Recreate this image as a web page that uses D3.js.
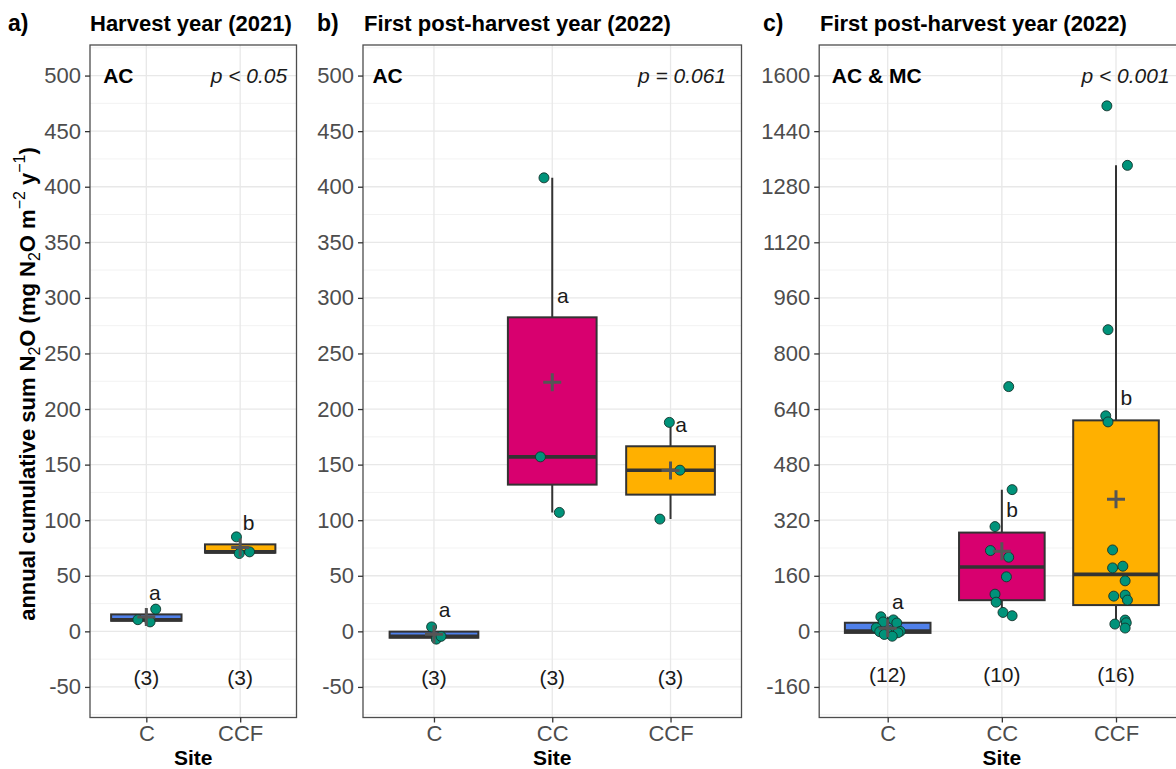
<!DOCTYPE html>
<html>
<head>
<meta charset="utf-8">
<script src="https://cdn.jsdelivr.net/npm/d3@7"></script>
<style>
  body { margin: 0; background: #fff; }
  svg { display: block; font-family: "Liberation Sans", Arial, sans-serif; }
</style>
</head>
<body>
<svg id="chart" width="1176" height="769"></svg>
<script>
// ---- Data -------------------------------------------------------------
const panelTags   = ["a)", "b)", "c)"];
const panelTitles = ["Harvest year (2021)", "First post-harvest year (2022)", "First post-harvest year (2022)"];
const chamberText = ["AC", "AC", "AC & MC"];
const pText       = ["p < 0.05", "p = 0.061", "p < 0.001"];

const sitesA  = ["C", "CCF"];
const sitesBC = ["C", "CC", "CCF"];

const yTicksAB = [-50, 0, 50, 100, 150, 200, 250, 300, 350, 400, 450, 500];
const yTicksC  = [-160, 0, 160, 320, 480, 640, 800, 960, 1120, 1280, 1440, 1600];
const yLimitsAB = [-50, 500];
const yLimitsC  = [-160, 1600];

// annual cumulative N2O sums per site (mg N2O m-2 y-1)
const a_C   = [20, 10.5, 8.5];
const a_CCF = [85, 70, 71.5];
const b_C   = [4, -7, -4.5];
const b_CC  = [408, 157, 107];
const b_CCF = [188, 145, 101];
const c_C   = [42, 33, 27, 24, 10, 2, 0, -1, -4, -6, -9, -14];
const c_CC  = [704.6, 408, 301.6, 232.6, 213.4, 157, 107, 84, 54.5, 45];
const c_CCF = [1512.8, 1341.5, 868.4, 620.5, 603, 234.4, 182.7, 187.6, 145.4, 101.4, 104.3, 90, 32.5, 24.7, 21, 9.5];

// horizontal jitter of the points (in category units)
const jit_a_C   = [0.10, -0.09, 0.04];
const jit_a_CCF = [-0.04, -0.01, 0.10];
const jit_b_C   = [-0.02, 0.02, 0.06];
const jit_b_CC  = [-0.07, -0.10, 0.06];
const jit_b_CCF = [-0.01, 0.08, -0.09];
const jit_c_C   = [-0.06, 0.05, -0.04, 0.08, -0.10, 0.02, 0.11, -0.07, 0.09, 0.0, -0.03, 0.04];
const jit_c_CC  = [0.06, 0.09, -0.06, -0.10, 0.06, 0.04, -0.06, -0.05, 0.01, 0.09];
const jit_c_CCF = [-0.08, 0.10, -0.07, -0.09, -0.07, -0.03, -0.03, 0.06, 0.08, -0.02, 0.08, 0.10, 0.08, 0.09, -0.01, 0.08];

// significance letters and where they sit on the y scale
const lettersA = ["a", "b"];
const lettersB = ["a", "a", "a"];
const lettersC = ["a", "b", "b"];
const letterYA = [28, 91];
const letterYB = [12.6, 295.6, 179.6];
const letterYC = [64, 328, 652];
const nLabelY  = [-48, -48, -145];

const siteColors = { C: "#4f80ea", CC: "#d8006f", CCF: "#ffb000" };

// ---- Layout -----------------------------------------------------------
const panels = [
  { left: 90,    right: 296.5,  sites: sitesA,  ticks: yTicksAB, lim: yLimitsAB,
    values: [a_C, a_CCF], jit: [jit_a_C, jit_a_CCF], letters: lettersA, letterY: letterYA,
    tagX: 8, titleX: 90, chamberX: 0.54, pX: 2.5 },
  { left: 363,   right: 741.5,  sites: sitesBC, ticks: yTicksAB, lim: yLimitsAB,
    values: [b_C, b_CC, b_CCF], jit: [jit_b_C, jit_b_CC, jit_b_CCF], letters: lettersB, letterY: letterYB,
    tagX: 317, titleX: 364, chamberX: 0.48, pX: 3.47 },
  { left: 819.2, right: 1184.5, sites: sitesBC, ticks: yTicksC,  lim: yLimitsC,
    values: [c_C, c_CC, c_CCF], jit: [jit_c_C, jit_c_CC, jit_c_CCF], letters: lettersC, letterY: letterYC,
    tagX: 763, titleX: 820, chamberX: 0.51, pX: 3.47 }
];
const plotTop = 45, plotBottom = 717.5;
const FS = 22;     // axis text and titles
const FA = 21;     // in-panel annotations

const svg = d3.select("#chart");
svg.append("rect").attr("width", 1176).attr("height", 769).attr("fill", "#fff");

panels.forEach((P, pi) => {
  const span = P.lim[1] - P.lim[0];
  const y = d3.scaleLinear()
    .domain([P.lim[0] - 0.05 * span, P.lim[1] + 0.05 * span])
    .range([plotBottom, plotTop]);
  const x = d3.scalePoint().domain(P.sites).range([P.left, P.right]).padding(0.6);
  const step = x.step();
  const xc = v => P.left + (v - 0.4) * step;   // continuous category coordinate

  const g = svg.append("g");
  const clipId = "clip" + pi;
  g.append("clipPath").attr("id", clipId)
    .append("rect").attr("x", P.left).attr("y", plotTop)
    .attr("width", P.right - P.left).attr("height", plotBottom - plotTop);
  const plot = g.append("g").attr("clip-path", `url(#${clipId})`);

  // minor grid
  const tickStep = P.ticks[1] - P.ticks[0];
  const minor = [];
  for (let v = P.ticks[0] - tickStep / 2; v <= P.ticks[P.ticks.length - 1] + tickStep; v += tickStep) {
    if (v >= y.domain()[0] && v <= y.domain()[1]) minor.push(v);
  }
  plot.selectAll(".minor").data(minor).join("line")
    .attr("x1", P.left).attr("x2", P.right)
    .attr("y1", d => y(d)).attr("y2", d => y(d))
    .attr("stroke", "#ededed").attr("stroke-width", 0.7);
  // major grid
  plot.selectAll(".majorH").data(P.ticks).join("line")
    .attr("x1", P.left).attr("x2", P.right)
    .attr("y1", d => y(d)).attr("y2", d => y(d))
    .attr("stroke", "#e8e8e8").attr("stroke-width", 1.3);
  plot.selectAll(".majorV").data(P.sites).join("line")
    .attr("x1", d => x(d)).attr("x2", d => x(d))
    .attr("y1", plotTop).attr("y2", plotBottom)
    .attr("stroke", "#e8e8e8").attr("stroke-width", 1.3);

  // box statistics
  const stats = P.sites.map((s, i) => {
    const v = P.values[i].slice().sort(d3.ascending);
    const q1 = d3.quantile(v, 0.25), med = d3.quantile(v, 0.5), q3 = d3.quantile(v, 0.75);
    const iqr = q3 - q1;
    const lo = d3.min(v.filter(d => d >= q1 - 1.5 * iqr));
    const hi = d3.max(v.filter(d => d <= q3 + 1.5 * iqr));
    return { site: s, q1, med, q3, lo, hi, mean: d3.mean(v) };
  });
  const bw = 0.75 * step;

  // whiskers
  stats.forEach(st => {
    plot.append("line").attr("x1", x(st.site)).attr("x2", x(st.site))
      .attr("y1", y(st.q3)).attr("y2", y(st.hi))
      .attr("stroke", "#333").attr("stroke-width", 2);
    plot.append("line").attr("x1", x(st.site)).attr("x2", x(st.site))
      .attr("y1", y(st.q1)).attr("y2", y(st.lo))
      .attr("stroke", "#333").attr("stroke-width", 2);
  });
  // boxes
  plot.selectAll(".box").data(stats).join("rect")
    .attr("x", d => x(d.site) - bw / 2).attr("width", bw)
    .attr("y", d => y(d.q3)).attr("height", d => y(d.q1) - y(d.q3))
    .attr("fill", d => siteColors[d.site])
    .attr("stroke", "#333").attr("stroke-width", 2);
  plot.selectAll(".med").data(stats).join("line")
    .attr("x1", d => x(d.site) - bw / 2).attr("x2", d => x(d.site) + bw / 2)
    .attr("y1", d => y(d.med)).attr("y2", d => y(d.med))
    .attr("stroke", "#333").attr("stroke-width", 3.6);

  // points
  P.sites.forEach((s, i) => {
    plot.selectAll(null).data(P.values[i]).join("circle")
      .attr("cx", (d, j) => x(s) + P.jit[i][j] * step)
      .attr("cy", d => y(d))
      .attr("r", 5)
      .attr("fill", "#00937a").attr("stroke", "#14332b").attr("stroke-width", 0.9);
  });

  // mean markers
  const cs = 9;
  stats.forEach(st => {
    const cx = x(st.site), cy = y(st.mean);
    plot.append("path")
      .attr("d", `M${cx - cs},${cy}H${cx + cs}M${cx},${cy - cs}V${cy + cs}`)
      .attr("stroke", "#555").attr("stroke-width", 3).attr("fill", "none");
  });

  // significance letters and group sizes
  P.sites.forEach((s, i) => {
    plot.append("text")
      .attr("x", x(s) + 0.09 * step).attr("y", y(P.letterY[i]))
      .attr("text-anchor", "middle").attr("font-size", FA).attr("fill", "#1a1a1a")
      .text(P.letters[i]);
    plot.append("text")
      .attr("x", x(s)).attr("y", y(nLabelY[pi]))
      .attr("text-anchor", "middle").attr("font-size", FA).attr("fill", "#1a1a1a")
      .text(`(${P.values[i].length})`);
  });

  // corner annotations
  plot.append("text")
    .attr("x", xc(P.chamberX)).attr("y", y(P.ticks[P.ticks.length - 1]))
    .attr("dy", "0.35em").attr("font-size", FA).attr("font-weight", "bold").attr("fill", "#000")
    .text(chamberText[pi]);
  plot.append("text")
    .attr("x", xc(P.pX)).attr("y", y(P.ticks[P.ticks.length - 1]))
    .attr("dy", "0.35em").attr("text-anchor", "end").attr("font-size", FA)
    .attr("font-style", "italic").attr("fill", "#1a1a1a")
    .text(pText[pi]);

  // border
  g.append("rect").attr("x", P.left).attr("y", plotTop)
    .attr("width", P.right - P.left).attr("height", plotBottom - plotTop)
    .attr("fill", "none").attr("stroke", "#4d4d4d").attr("stroke-width", 1.3);

  // axes
  const ya = g.append("g").attr("transform", `translate(${P.left},0)`)
    .call(d3.axisLeft(y).tickValues(P.ticks).tickFormat(d => String(d)).tickSize(5).tickPadding(4));
  ya.select(".domain").remove();
  ya.selectAll("line").attr("stroke", "#333").attr("stroke-width", 1.3);
  ya.selectAll("text").attr("font-size", FS).attr("fill", "#4d4d4d")
    .attr("font-family", "Liberation Sans, Arial, sans-serif");

  const xa = g.append("g").attr("transform", `translate(0,${plotBottom})`)
    .call(d3.axisBottom(x).tickSize(5).tickPadding(2.5));
  xa.select(".domain").remove();
  xa.selectAll("line").attr("stroke", "#333").attr("stroke-width", 1.3);
  xa.selectAll("text").attr("font-size", FS).attr("fill", "#4d4d4d")
    .attr("font-family", "Liberation Sans, Arial, sans-serif");

  // x title
  g.append("text").attr("x", (P.left + P.right) / 2).attr("y", 765)
    .attr("text-anchor", "middle").attr("font-size", FA).attr("font-weight", "bold")
    .text("Site");

  // panel tag and title
  g.append("text").attr("x", P.tagX).attr("y", 31).attr("font-size", FS + 1)
    .attr("font-weight", "bold").text(panelTags[pi]);
  g.append("text").attr("x", P.titleX).attr("y", 31).attr("font-size", FS)
    .attr("font-weight", "bold").text(panelTitles[pi]);
});

// y-axis title with sub/superscripts
const yt = svg.append("text")
  .attr("transform", "translate(35,384) rotate(-90)")
  .attr("text-anchor", "middle").attr("font-size", FS).attr("font-weight", "bold").attr("fill", "#000");
const small = 16;
yt.append("tspan").text("annual cumulative sum N");
yt.append("tspan").attr("font-size", small).attr("font-weight", "normal").attr("dy", 5).text("2");
yt.append("tspan").attr("dy", -5).text("O (mg N");
yt.append("tspan").attr("font-size", small).attr("font-weight", "normal").attr("dy", 5).text("2");
yt.append("tspan").attr("dy", -5).text("O m");
yt.append("tspan").attr("font-size", small).attr("font-weight", "normal").attr("dy", -10).text("\u22122");
yt.append("tspan").attr("dy", 10).text(" y");
yt.append("tspan").attr("font-size", small).attr("font-weight", "normal").attr("dy", -10).text("\u22121");
yt.append("tspan").attr("dy", 10).text(")");
</script>
</body>
</html>
